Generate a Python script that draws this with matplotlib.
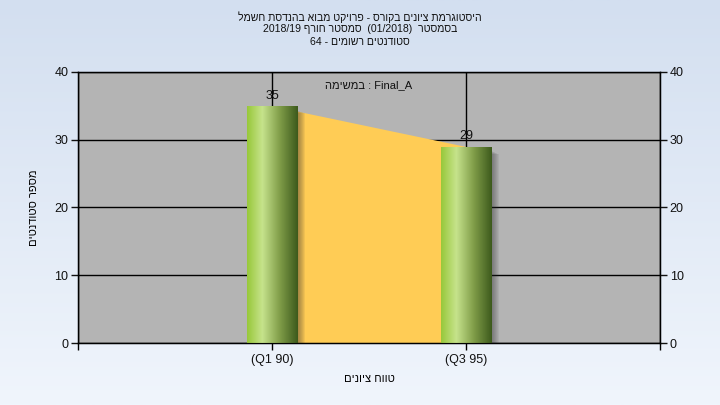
import numpy as np
import matplotlib
matplotlib.use("Agg")
import matplotlib.pyplot as plt
import matplotlib.transforms as mtransforms
from matplotlib.colors import LinearSegmentedColormap

plt.rcParams['font.family'] = ['Liberation Sans', 'DejaVu Sans']


def vis(s):
    # hebrew is drawn right to left, matplotlib draws left to right
    return s[::-1]


# data
categories = ["(Q1 90)", "(Q3 95)"]
counts = [35, 29]
y_ticks = [0, 10, 20, 30, 40]

title_lines = [
    vis("היסטוגרמת ציונים בקורס - פרויקט מבוא בהנדסת חשמל"),
    "2018/19 " + vis("סמסטר חורף") + "  (01/2018)  " + vis("בסמסטר"),
    "64 - " + vis("סטודנטים רשומים"),
]
subtitle = vis("במשימה") + " : Final_A"
x_label = vis("טווח ציונים")
y_label = vis("מספר סטודנטים")

fig = plt.figure(figsize=(7.2, 4.05), dpi=100)

# background gradient
bg = fig.add_axes([0, 0, 1, 1], zorder=-10)
bg_cmap = LinearSegmentedColormap.from_list("bg", ["#d3dff0", "#f0f5fc"])
bg.imshow(np.linspace(0, 1, 256).reshape(-1, 1), aspect="auto", cmap=bg_cmap,
          extent=[0, 1, 0, 1])
bg.axis("off")

ax = fig.add_axes([78 / 720, 1 - 343 / 405, 582 / 720, 271 / 405])
ax.set_facecolor("#b4b4b4")
x = np.arange(1, len(counts) + 1)
width = 0.26

# area between bar tops
ax.fill_between(x, counts, 0, color="#ffcc55", zorder=2, linewidth=0)

# bar shadows
for i in range(1, 9):
    off = mtransforms.offset_copy(ax.transData, fig=fig, x=i * 0.7, y=-i * 0.3, units="points")
    ax.bar(x, np.array(counts) - 0.6, width=width, color="#303030", alpha=0.07,
           transform=off, zorder=3, linewidth=0)

# gradient bars
bar_cmap = LinearSegmentedColormap.from_list(
    "bar", [(0, "#98c83a"), (0.3, "#c6e38c"), (0.65, "#7f9c48"), (1, "#3d5a1c")])
bars = ax.bar(x, counts, width=width, color="none", zorder=4, linewidth=0)
for b in bars:
    im = ax.imshow(np.linspace(0, 1, 128).reshape(1, -1), cmap=bar_cmap, aspect="auto",
                   extent=[b.get_x(), b.get_x() + b.get_width(), 0, b.get_height()],
                   zorder=4)
    im.set_clip_path(b)

for xi, v in zip(x, counts):
    ax.annotate(str(v), (xi, v), xytext=(0, 3), textcoords="offset points",
                ha="center", va="bottom", fontsize=9, color="#111111", zorder=6)

ax.set_xlim(0, len(counts) + 1)
ax.set_ylim(0, 40)
ax.set_xticks(np.arange(0, len(counts) + 2))
ax.set_xticklabels([""] + categories + [""], fontsize=9, color="#111111")
ax.set_yticks(y_ticks)
ax.tick_params(axis="y", labelsize=9, colors="#111111", length=5, width=1, pad=2)
ax.tick_params(axis="x", length=5, width=1, pad=3)
ax.grid(True, color="black", linewidth=1)
ax.set_axisbelow(True)
for s in ax.spines.values():
    s.set_color("black")
    s.set_linewidth(1)

ax2 = ax.twinx()
ax2.set_ylim(0, 40)
ax2.set_yticks(y_ticks)
ax2.tick_params(axis="y", labelsize=9, colors="#111111", length=5, width=1, pad=2)

ax.set_xlabel(x_label, fontsize=8, labelpad=6)
ax.set_ylabel(y_label, fontsize=8, labelpad=11)

ax.text(0.5, 0.95, subtitle, transform=ax.transAxes, ha="center", va="center",
        fontsize=8, color="#111111", zorder=7)

for i, line in enumerate(title_lines):
    fig.text(0.5, 1 - (17 + i * 12.5) / 405, line, ha="center", va="center",
             fontsize=7.6, color="#111111")

fig.savefig("out.png", dpi=100)
